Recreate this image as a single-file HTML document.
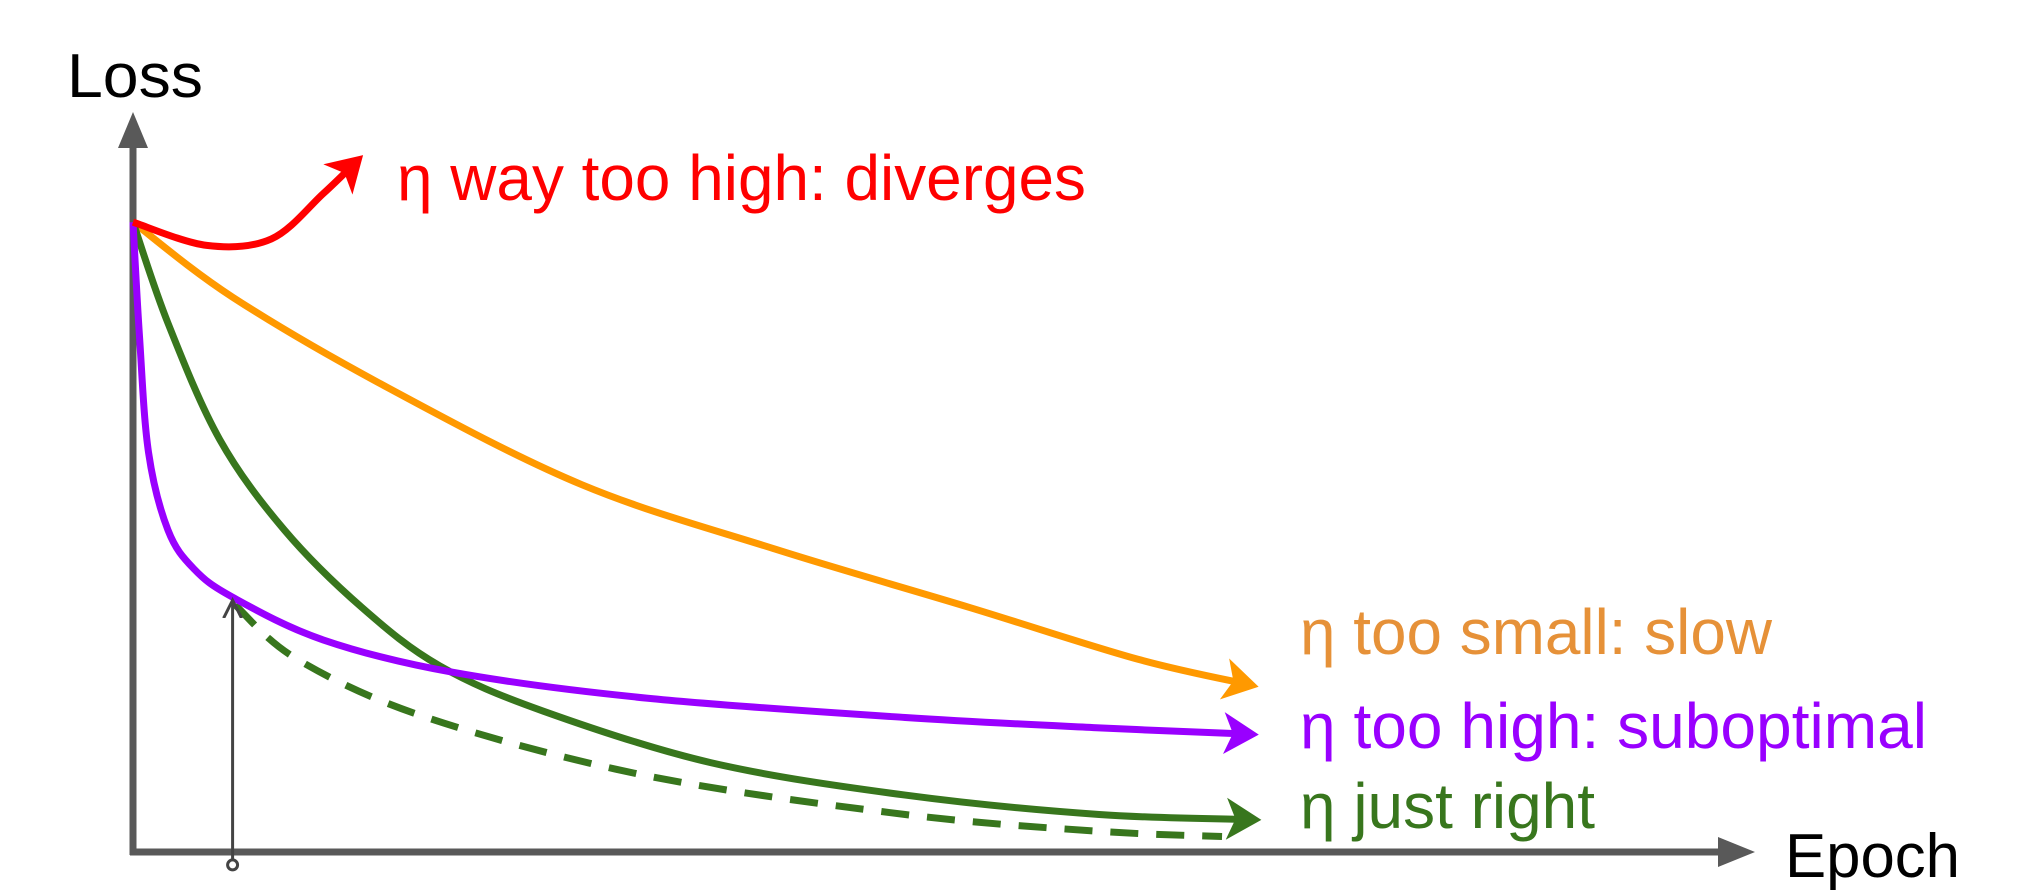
<!DOCTYPE html>
<html><head><meta charset="utf-8"><style>
html,body{margin:0;padding:0;background:#fff;}
svg{display:block;}
text{font-family:"Liberation Sans",sans-serif;}
</style></head><body>
<svg id="chart" width="2028" height="892" viewBox="0 0 2028 892" xmlns="http://www.w3.org/2000/svg">
<defs>
<marker id="ah-red" markerWidth="6" markerHeight="6" refX="4" refY="3" orient="auto" markerUnits="strokeWidth"><path d="M0,0 L5,3 L0,6 L1.3,3 Z" fill="#ff0000"/></marker>
<marker id="ah-orange" markerWidth="6" markerHeight="6" refX="4" refY="3" orient="auto" markerUnits="strokeWidth"><path d="M0,0 L5,3 L0,6 L1.3,3 Z" fill="#ff9900"/></marker>
<marker id="ah-purple" markerWidth="6" markerHeight="6" refX="4" refY="3" orient="auto" markerUnits="strokeWidth"><path d="M0,0 L5,3 L0,6 L1.3,3 Z" fill="#9900ff"/></marker>
<marker id="ah-green" markerWidth="6" markerHeight="6" refX="4" refY="3" orient="auto" markerUnits="strokeWidth"><path d="M0,0 L5,3 L0,6 L1.3,3 Z" fill="#38761d"/></marker>
<marker id="ah-gray" markerWidth="8" markerHeight="8" refX="5" refY="4" orient="auto" markerUnits="strokeWidth"><path d="M0,1 L6,4 L0,7" fill="none" stroke="#444" stroke-width="1"/></marker>
</defs>
<g id="axes">
<line x1="133" y1="855" x2="133" y2="140" stroke="#595959" stroke-width="7"/>
<polygon points="133,112 118,148 148,148" fill="#595959"/>
<line x1="130" y1="852" x2="1725" y2="852" stroke="#595959" stroke-width="7"/>
<polygon points="1755,852 1718,837 1718,867" fill="#595959"/>
<text x="67" y="97" font-size="62" fill="#000" textLength="136" lengthAdjust="spacingAndGlyphs">Loss</text>
<text x="1785" y="877" font-size="62" fill="#000" textLength="175" lengthAdjust="spacingAndGlyphs">Epoch</text>
</g>
<g id="series"></g>
<g id="labels">
<text x="397" y="200" font-size="64" fill="#ff0000" textLength="689" lengthAdjust="spacingAndGlyphs">η way too high: diverges</text>
<text x="1300" y="654" font-size="64" fill="#e69138" textLength="472" lengthAdjust="spacingAndGlyphs">η too small: slow</text>
<text x="1300" y="748" font-size="64" fill="#9900ff" textLength="627" lengthAdjust="spacingAndGlyphs">η too high: suboptimal</text>
<text x="1300" y="828" font-size="64" fill="#38761d" textLength="295" lengthAdjust="spacingAndGlyphs">η just right</text>
</g>
</svg>
<script>
const redEpochs=[0,5.7,10.7,14.7,17.4];
const redLoss=[48.7,46.9,47.4,50.9,53.5];
const orangeEpochs=[0,7.7,19.7,34.7,49.7,64.7,77.7,86.5];
const orangeLoss=[48.7,42.9,35.9,28.4,23.4,18.9,14.9,12.9];
const purpleEpochs=[0,0.5,1.2,2.7,4.7,7.7,14.7,24.7,39.7,59.7,74.7,86.5];
const purpleLoss=[48.7,39.9,30.9,24.9,21.9,19.7,16.4,13.9,11.9,10.4,9.6,9.1];
const greenEpochs=[0,2.7,6.7,11.7,17.7,23.7,31.7,44.7,59.7,74.7,86.7];
const greenLoss=[48.7,40.9,31.9,24.9,18.9,14.4,10.9,6.9,4.4,2.9,2.5];
const dashEpochs=[7.9,12.7,22.7,39.7,59.7,74.7,84.2];
const dashLoss=[19.1,14.9,10.4,5.9,2.9,1.6,1.2];
const markerEpoch=[7.7];
const markerLoss=[19.7];

const K=1.2934;
function xs(e){return 133+e*10*K;}
function ys(l){return 852-l*10*K;}
function pathFrom(ex,ly){
  const p=ex.map((e,i)=>[xs(e),ys(ly[i])]);
  let d='M'+p[0][0]+','+p[0][1];
  for(let i=0;i<p.length-1;i++){
    const p0=p[i-1]||p[i],p1=p[i],p2=p[i+1],p3=p[i+2]||p2;
    const c1=[p1[0]+(p2[0]-p0[0])/6,p1[1]+(p2[1]-p0[1])/6];
    const c2=[p2[0]-(p3[0]-p1[0])/6,p2[1]-(p3[1]-p1[1])/6];
    d+=' C'+c1[0]+','+c1[1]+' '+c2[0]+','+c2[1]+' '+p2[0]+','+p2[1];
  }
  return d;
}
const NS='http://www.w3.org/2000/svg';
const g=document.getElementById('series');
function addLine(ex,ly,color,marker,name,dash){
  const el=document.createElementNS(NS,'path');
  el.setAttribute('d',pathFrom(ex,ly));
  el.setAttribute('fill','none');
  el.setAttribute('stroke',color);
  el.setAttribute('stroke-width','7');
  el.setAttribute('stroke-linecap','butt');
  if(dash)el.setAttribute('stroke-dasharray',dash);
  if(marker)el.setAttribute('marker-end','url(#'+marker+')');
  
  
  g.appendChild(el);
}
addLine(orangeEpochs,orangeLoss,'#ff9900','ah-orange','series-too-small');
addLine(dashEpochs,dashLoss,'#38761d',null,'series-just-right-dashed','28,18');
addLine(greenEpochs,greenLoss,'#38761d','ah-green','series-just-right');
addLine(purpleEpochs,purpleLoss,'#9900ff','ah-purple','series-suboptimal');
addLine(redEpochs,redLoss,'#ff0000','ah-red','series-diverges');
const va=document.createElementNS(NS,'line');
va.setAttribute('x1',xs(markerEpoch[0]));va.setAttribute('y1',ys(-1));
va.setAttribute('x2',xs(markerEpoch[0]));va.setAttribute('y2',ys(markerLoss[0])+6);
va.setAttribute('stroke','#444');va.setAttribute('stroke-width','3');
va.setAttribute('marker-end','url(#ah-gray)');


g.appendChild(va);
const dot=document.createElementNS(NS,'circle');
dot.setAttribute('cx',xs(markerEpoch[0]));dot.setAttribute('cy',ys(-1));dot.setAttribute('r','5');
dot.setAttribute('fill','#fff');dot.setAttribute('stroke','#444');dot.setAttribute('stroke-width','3');


g.appendChild(dot);
</script>
</body></html>
